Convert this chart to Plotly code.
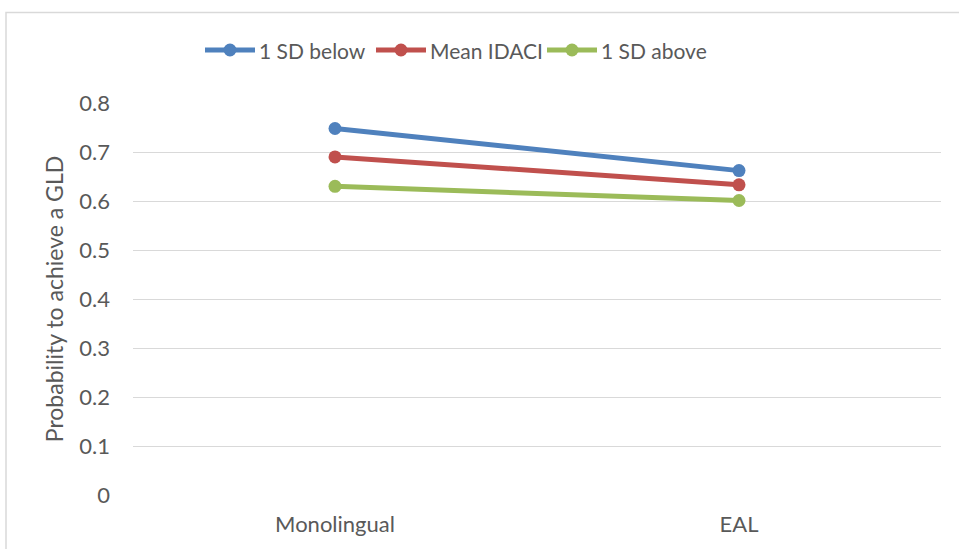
import plotly.graph_objects as go

categories = ["Monolingual", "EAL"]
series_names = ["1 SD below", "Mean IDACI", "1 SD above"]
below_vals = [0.748, 0.662]
mean_vals = [0.690, 0.633]
above_vals = [0.630, 0.601]
series_colors = ["#4F81BD", "#C0504D", "#9BBB59"]
y_ticks = [0, 0.1, 0.2, 0.3, 0.4, 0.5, 0.6, 0.7, 0.8]
y_tick_text = ["0", "0.1", "0.2", "0.3", "0.4", "0.5", "0.6", "0.7", "0.8"]

FONT = "Lato, Open Sans, sans-serif"
TEXT = "#595959"
FS = 22
LEG_FS = 21

# plot area in pixels
L, R, T, B = 133, 941, 103, 495
W, H = 959, 549


def px(x):
    return (x - L) / (R - L)


def py(y):
    return (B - y) / (B - T)


fig = go.Figure()
for name, vals, col in zip(series_names, [below_vals, mean_vals, above_vals], series_colors):
    fig.add_trace(go.Scatter(
        x=categories, y=vals, name=name, mode="lines+markers",
        line=dict(color=col, width=5),
        marker=dict(color=col, size=13),
        showlegend=False,
    ))

# legend row: line + dot sample, then label
legend_x = [205, 376, 547]
legend_y = 50
for name, col, lx in zip(series_names, series_colors, legend_x):
    fig.add_shape(type="line", xref="paper", yref="paper",
                  x0=px(lx), x1=px(lx + 50), y0=py(legend_y), y1=py(legend_y),
                  line=dict(color=col, width=5))
    fig.add_shape(type="circle", xref="paper", yref="paper",
                  x0=px(lx + 25 - 6.5), x1=px(lx + 25 + 6.5),
                  y0=py(legend_y + 6.5), y1=py(legend_y - 6.5),
                  line=dict(color=col, width=0), fillcolor=col)
    fig.add_annotation(text=name, xref="paper", yref="paper",
                       x=px(lx + 52), y=py(legend_y), xanchor="left", yanchor="middle",
                       showarrow=False, font=dict(size=LEG_FS, color=TEXT, family=FONT))

fig.update_layout(
    width=W, height=H,
    margin=dict(l=L, r=W - R, t=T, b=H - B, autoexpand=False),
    paper_bgcolor="white", plot_bgcolor="white",
    font=dict(family=FONT, color=TEXT, size=FS),
    showlegend=False,
    xaxis=dict(range=[-0.5, 1.5], showgrid=False, showline=False, ticks="",
               tickfont=dict(size=FS, color=TEXT), zeroline=False,
               ticklabelstandoff=14),
    yaxis=dict(range=[0, 0.8], tickvals=y_ticks, ticktext=y_tick_text,
               showgrid=True, gridcolor="#D9D9D9", gridwidth=1.3, zeroline=False,
               showline=False, ticks="", ticklabelstandoff=22,
               tickfont=dict(size=FS, color=TEXT),
               title=dict(text="Probability to achieve a GLD", font=dict(size=23, color=TEXT),
                          standoff=9)),
)

# chart outline
fig.add_shape(type="rect", xref="paper", yref="paper",
              x0=px(6), x1=px(975), y0=py(570), y1=py(12.5),
              line=dict(color="#D9D9D9", width=1.5), fillcolor="rgba(0,0,0,0)", layer="below")

fig.write_html("out.html")
